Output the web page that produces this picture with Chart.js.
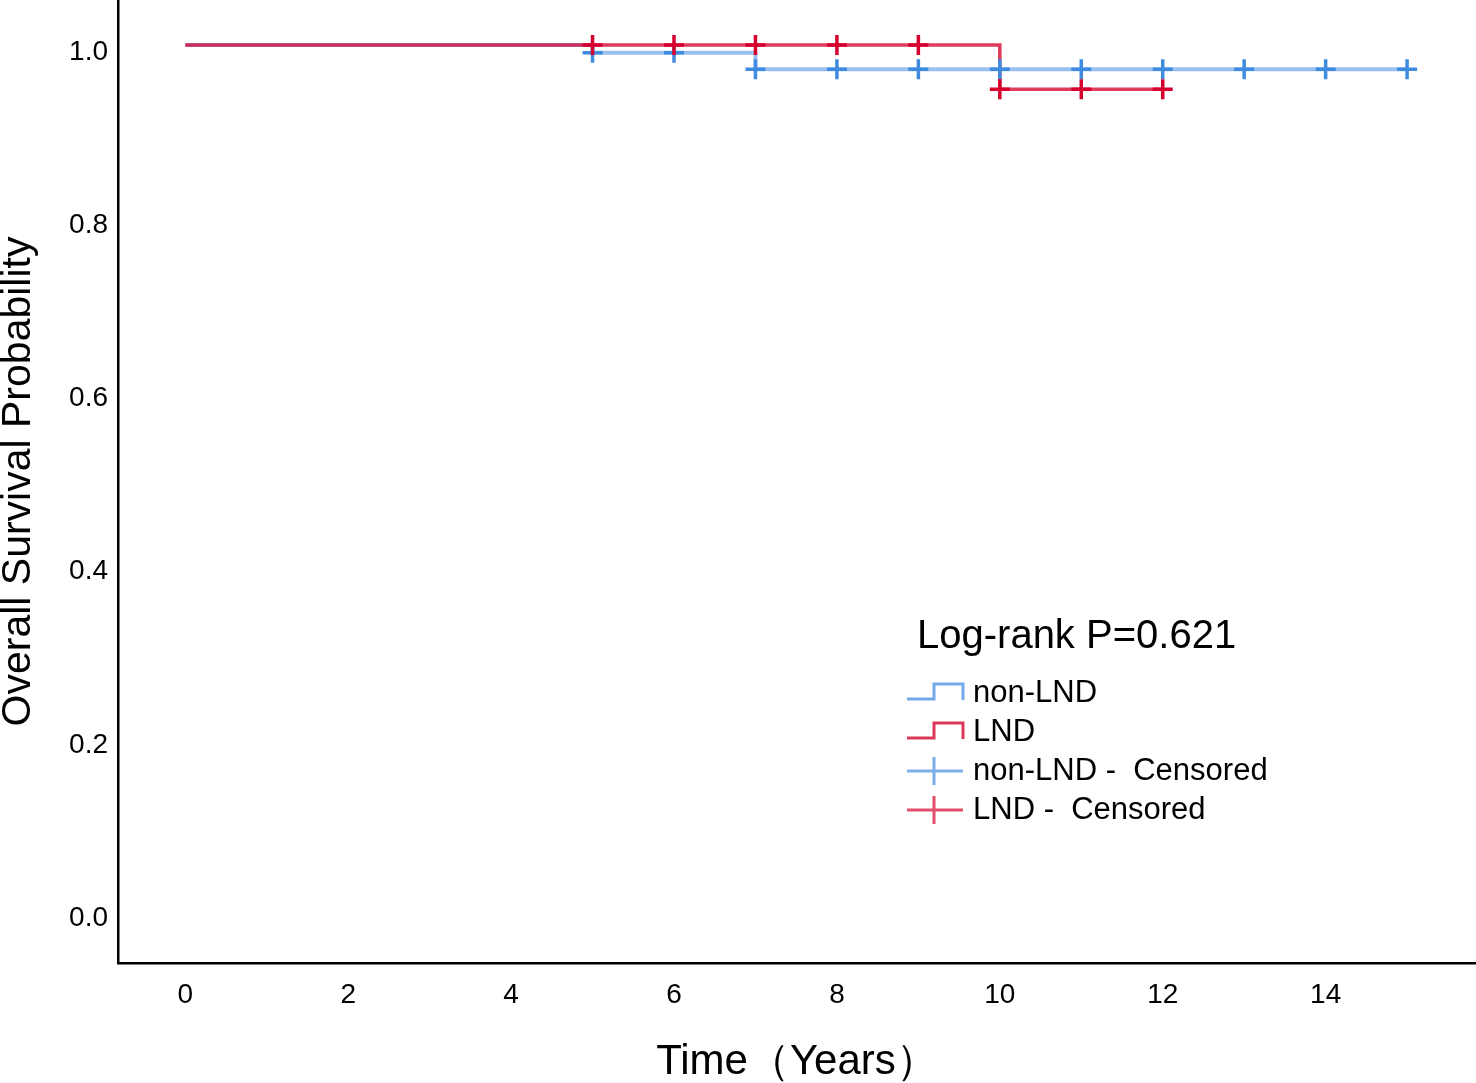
<!DOCTYPE html>
<html>
<head>
<meta charset="utf-8">
<title>Overall Survival - LND vs non-LND</title>
<script src="https://cdn.jsdelivr.net/npm/chart.js@4.4.1/dist/chart.umd.min.js"></script>
<style>
  html, body { margin: 0; padding: 0; background: #fff; }
  #wrap { width: 1476px; height: 1083px; position: relative; }
</style>
</head>
<body>
<div id="wrap"><canvas id="kmChart"></canvas></div>
<script>
// axis ticks
const xTicks = [0, 2, 4, 6, 8, 10, 12, 14];
const yTicks = [0.0, 0.2, 0.4, 0.6, 0.8, 1.0];

// Kaplan-Meier steps (years, survival probability)
const nonLndTimes = [0, 5, 7, 15];
const nonLndSurv = [1.0, 0.991, 0.972, 0.972];
const lndTimes = [0, 10, 12];
const lndSurv = [1.0, 0.949, 0.949];

// censored cases
const nonLndCensTimes = [5, 6, 7, 8, 9, 10, 11, 12, 13, 14, 15];
const nonLndCensSurv = [0.991, 0.991, 0.972, 0.972, 0.972, 0.972, 0.972, 0.972, 0.972, 0.972, 0.972];
const lndCensTimes = [5, 6, 7, 8, 9, 10, 11, 12];
const lndCensSurv = [1.0, 1.0, 1.0, 1.0, 1.0, 0.949, 0.949, 0.949];

const pValueText = 'Log-rank P=0.621';

const FONT = '"Liberation Sans", Arial, sans-serif';
const blueLine = 'rgba(70, 140, 225, 0.55)';
const redLine = 'rgba(215, 10, 50, 0.8)';
const blueMark = '#3f8be0';
const redMark = '#d6002e';

function toPoints(xs, ys) {
  return xs.map((x, i) => ({ x: x, y: ys[i] }));
}

// no extra room around the plot: axes sit on the canvas edges
function noPadding(scale) {
  scale.paddingTop = 0;
  scale.paddingBottom = 0;
  scale.paddingLeft = 0;
  scale.paddingRight = 0;
}

// legend drawn inside the plot, SPSS style
const kmLegend = {
  id: 'kmLegend',
  afterDatasetsDraw(chart, args, opts) {
    const ctx = chart.ctx;
    ctx.save();
    ctx.fillStyle = '#000';
    ctx.textBaseline = 'middle';
    ctx.textAlign = 'left';
    ctx.font = '40px ' + FONT;
    ctx.fillText(pValueText, opts.titleX, opts.titleY);

    ctx.font = '31px ' + FONT;
    opts.items.forEach((item, i) => {
      const y = opts.firstY + i * opts.rowGap;
      const x0 = opts.iconX;
      ctx.strokeStyle = item.color;
      ctx.lineWidth = 3;
      ctx.beginPath();
      if (item.kind === 'step') {
        ctx.moveTo(x0, y + 6);
        ctx.lineTo(x0 + 27, y + 6);
        ctx.lineTo(x0 + 27, y - 9);
        ctx.lineTo(x0 + 56, y - 9);
        ctx.lineTo(x0 + 56, y + 7);
      } else {
        ctx.moveTo(x0, y);
        ctx.lineTo(x0 + 56, y);
        ctx.moveTo(x0 + 27, y - 14);
        ctx.lineTo(x0 + 27, y + 14);
      }
      ctx.stroke();
      ctx.fillStyle = '#000';
      ctx.fillText(item.label, opts.textX, y);
    });
    ctx.restore();
  }
};

const ctx = document.getElementById('kmChart').getContext('2d');
new Chart(ctx, {
  type: 'scatter',
  data: {
    datasets: [
      {
        label: 'LND -  Censored',
        data: toPoints(lndCensTimes, lndCensSurv),
        showLine: false,
        pointStyle: 'cross',
        pointRadius: 10,
        pointBorderWidth: 3.5,
        borderColor: redMark,
        backgroundColor: redMark,
      },
      {
        label: 'non-LND -  Censored',
        data: toPoints(nonLndCensTimes, nonLndCensSurv),
        showLine: false,
        pointStyle: 'cross',
        pointRadius: 10,
        pointBorderWidth: 3.5,
        borderColor: blueMark,
        backgroundColor: blueMark,
      },
      {
        label: 'LND',
        data: toPoints(lndTimes, lndSurv),
        showLine: true,
        stepped: true,
        borderColor: redLine,
        borderWidth: 3.5,
        pointRadius: 0,
      },
      {
        label: 'non-LND',
        data: toPoints(nonLndTimes, nonLndSurv),
        showLine: true,
        stepped: true,
        borderColor: blueLine,
        borderWidth: 4,
        pointRadius: 0,
      },
    ],
  },
  options: {
    responsive: true,
    maintainAspectRatio: false,
    animation: false,
    layout: { padding: 0, autoPadding: false },
    plugins: {
      legend: { display: false },
      tooltip: { enabled: false },
      kmLegend: {
        titleX: 917,
        titleY: 637,
        iconX: 907,
        textX: 973,
        firstY: 693,
        rowGap: 39,
        items: [
          { label: 'non-LND', color: 'rgba(70, 140, 225, 0.75)', kind: 'step' },
          { label: 'LND', color: 'rgba(215, 20, 60, 0.85)', kind: 'step' },
          { label: 'non-LND -  Censored', color: 'rgba(70, 140, 225, 0.7)', kind: 'cross' },
          { label: 'LND -  Censored', color: 'rgba(215, 20, 60, 0.75)', kind: 'cross' },
        ],
      },
    },
    scales: {
      x: {
        type: 'linear',
        min: -0.826,
        max: 15.846,
        afterBuildTicks: (scale) => {
          scale.ticks = xTicks.map((v) => ({ value: v }));
        },
        afterFit: (scale) => { scale.height = 120; noPadding(scale); },
        grid: { display: false, drawTicks: false },
        border: { display: true, color: '#000', width: 2.5 },
        ticks: {
          padding: 15,
          color: '#000',
          font: { family: FONT, size: 28 },
          callback: (v) => String(v),
        },
        title: {
          display: true,
          text: 'Time（Years）',
          color: '#000',
          font: { family: FONT, size: 42 },
          padding: { top: 0, bottom: -5 },
        },
      },
      y: {
        type: 'linear',
        min: -0.060,
        max: 1.052,
        afterBuildTicks: (scale) => {
          scale.ticks = yTicks.map((v) => ({ value: v }));
        },
        afterFit: (scale) => { scale.width = 118; noPadding(scale); },
        grid: { display: false, drawTicks: false },
        border: { display: true, color: '#000', width: 2.5 },
        ticks: {
          padding: 10,
          color: '#000',
          // empty first line nudges the labels a few px below the tick, as in the source figure
          font: { family: FONT, size: 28, lineHeight: '14px' },
          callback: (v) => ['', v.toFixed(1)],
        },
        title: {
          display: true,
          text: 'Overall Survival Probability',
          color: '#000',
          font: { family: FONT, size: 41 },
          padding: { top: -6, bottom: 0 },
        },
      },
    },
  },
  plugins: [kmLegend],
});
</script>
</body>
</html>
